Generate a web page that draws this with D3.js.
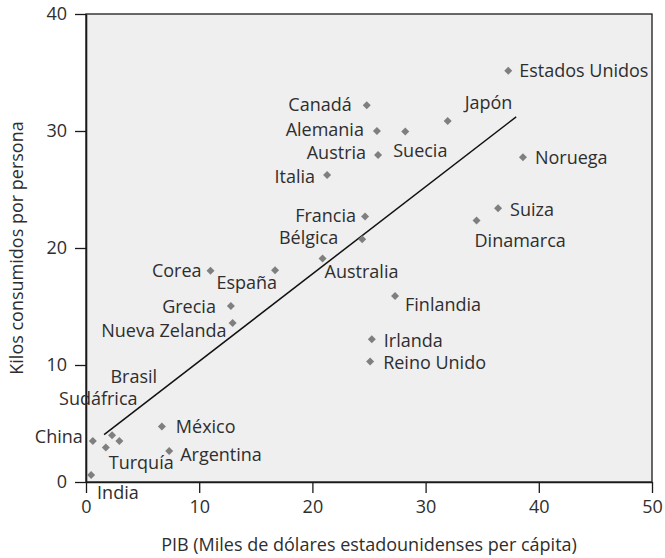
<!DOCTYPE html>
<html>
<head>
<meta charset="utf-8">
<script src="https://cdn.jsdelivr.net/npm/d3@7"></script>
<style>
  html, body { margin: 0; padding: 0; background: #ffffff; }
  svg { display: block; }
  text { font-family: "Open Sans", Lato, sans-serif; fill: #2e2e2e; }
</style>
</head>
<body>
<svg id="chart" width="665" height="558"></svg>
<script>
// Meat consumption vs. GDP per capita, by country
const countries = ["Estados Unidos", "Canadá", "Japón", "Alemania", "Suecia", "Austria",
  "Noruega", "Italia", "Francia", "Suiza", "Dinamarca", "Bélgica", "Australia", "España",
  "Corea", "Grecia", "Nueva Zelanda", "Finlandia", "Irlanda", "Reino Unido", "México",
  "Argentina", "India", "Turquía", "China", "Brasil", "Sudáfrica"];
const gdp = [37.3, 24.8, 31.95, 25.7, 28.2, 25.8, 38.6, 21.3, 24.65, 36.4, 34.5, 24.4,
  20.9, 16.7, 11.0, 12.8, 12.95, 27.3, 25.25, 25.1, 6.7, 7.35, 0.45, 1.75, 0.6, 2.95, 2.3];
const kilos = [35.15, 32.2, 30.85, 30.0, 29.95, 27.95, 27.75, 26.25, 22.7, 23.4, 22.35, 20.75,
  19.1, 18.1, 18.05, 15.05, 13.6, 15.9, 12.2, 10.3, 4.75, 2.65, 0.6, 2.95, 3.5, 3.5, 4.0];

// Fitted line: kilos = a + b * gdp, drawn over this gdp range
const trendCoef = [2.86, 0.746];
const trendRange = [1.6, 38.0];

const xTicks = [0, 10, 20, 30, 40, 50];
const yTicks = [0, 10, 20, 30, 40];

// Label placement: [dx, dy, anchor] relative to each marker, in px
const labelPlace = {
  "Estados Unidos": [11, 0, "start"],
  "Canadá": [-15, -1, "end"],
  "Japón": [17, -18, "start"],
  "Alemania": [-13, -1, "end"],
  "Suecia": [-12, 19, "start"],
  "Austria": [-12, -2, "end"],
  "Noruega": [12, 0, "start"],
  "Italia": [-12, 2, "end"],
  "Francia": [-9, -1, "end"],
  "Suiza": [12, 1, "start"],
  "Dinamarca": [-2, 20, "start"],
  "Bélgica": [-24, -2, "end"],
  "Australia": [2, 13, "start"],
  "España": [2, 12, "end"],
  "Corea": [-9, 0, "end"],
  "Grecia": [-15, 1, "end"],
  "Nueva Zelanda": [-6, 8, "end"],
  "Finlandia": [10, 9, "start"],
  "Irlanda": [12, 1, "start"],
  "Reino Unido": [13, 1, "start"],
  "México": [14, 0, "start"],
  "Argentina": [11, 4, "start"],
  "India": [6, 18, "start"],
  "Turquía": [3, 15, "start"],
  "China": [-10, -4, "end"],
  "Brasil": [-9, -64, "start"],
  "Sudáfrica": [-53, -37, "start"]
};

const svg = d3.select("#chart");
const margin = { left: 86, top: 14, right: 13, bottom: 76 };
const W = 665, H = 558;
const x = d3.scaleLinear().domain([0, 50]).range([margin.left, W - margin.right]);
const y = d3.scaleLinear().domain([0, 40]).range([H - margin.bottom, margin.top]);

// Plot background and frame
svg.append("rect")
  .attr("x", x(0)).attr("y", y(40))
  .attr("width", x(50) - x(0)).attr("height", y(0) - y(40))
  .attr("fill", "#efefef")
  .attr("stroke", "#1a1a1a").attr("stroke-width", 1.3);

// Axes
const fontSize = 18;
const xAxis = svg.append("g")
  .attr("transform", `translate(0,${y(0)})`)
  .call(d3.axisBottom(x).tickValues(xTicks).tickSize(11).tickSizeOuter(0).tickPadding(7));
const yAxis = svg.append("g")
  .attr("transform", `translate(${x(0)},0)`)
  .call(d3.axisLeft(y).tickValues(yTicks).tickSize(11).tickSizeOuter(0).tickPadding(8));
[xAxis, yAxis].forEach(g => {
  g.selectAll("path.domain").attr("stroke", "#1a1a1a").attr("stroke-width", 1.6);
  g.selectAll(".tick line").attr("stroke", "#1a1a1a").attr("stroke-width", 1.3);
  g.selectAll(".tick text")
    .attr("font-family", "'Open Sans', Lato, sans-serif")
    .attr("font-size", fontSize).attr("fill", "#2e2e2e");
});

// Axis titles
svg.append("text")
  .attr("x", (x(0) + x(50)) / 2).attr("y", 551)
  .attr("text-anchor", "middle").attr("font-size", fontSize)
  .text("PIB (Miles de dólares estadounidenses per cápita)");
svg.append("text")
  .attr("transform", `translate(23,${(y(0) + y(40)) / 2}) rotate(-90)`)
  .attr("text-anchor", "middle").attr("font-size", fontSize)
  .text("Kilos consumidos por persona");

// Trend line
svg.append("line")
  .attr("x1", x(trendRange[0])).attr("y1", y(trendCoef[0] + trendCoef[1] * trendRange[0]))
  .attr("x2", x(trendRange[1])).attr("y2", y(trendCoef[0] + trendCoef[1] * trendRange[1]))
  .attr("stroke", "#111").attr("stroke-width", 1.5);

// Markers and labels
const points = countries.map((c, i) => ({ name: c, gdp: gdp[i], kilos: kilos[i] }));
const diamond = d3.symbol().type(d3.symbolSquare).size(32);

svg.append("g").selectAll("path")
  .data(points).join("path")
  .attr("d", diamond)
  .attr("transform", d => `translate(${x(d.gdp)},${y(d.kilos)}) rotate(45)`)
  .attr("fill", "#7f7f7f");

svg.append("g").selectAll("text")
  .data(points).join("text")
  .attr("x", d => x(d.gdp) + labelPlace[d.name][0])
  .attr("y", d => y(d.kilos) + labelPlace[d.name][1])
  .attr("dy", "0.35em")
  .attr("text-anchor", d => labelPlace[d.name][2])
  .attr("font-size", fontSize)
  .text(d => d.name);
</script>
</body>
</html>
